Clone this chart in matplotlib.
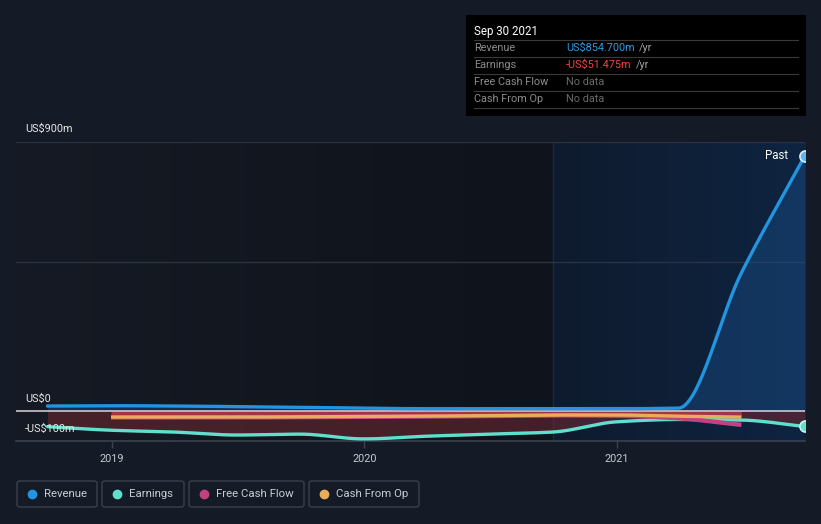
import numpy as np
import matplotlib
matplotlib.use("Agg")
import matplotlib.pyplot as plt
from matplotlib.patches import Rectangle, FancyBboxPatch
from matplotlib.colors import LinearSegmentedColormap

plt.rcParams['font.family'] = ['Roboto', 'DejaVu Sans']

# ---------------- data (US$ millions, decimal years) ----------------
quarters = [2018.745, 2018.997, 2019.244, 2019.493, 2019.745, 2019.997,
            2020.246, 2020.495, 2020.747, 2020.997, 2021.244, 2021.493, 2021.745]
revenue = [17, 18, 17, 15, 13, 10, 8, 8, 8, 8, 10, 462, 854.7]
earnings = [-52, -64, -70, -80, -77, -93, -84, -77, -70, -36, -28, -30, -51.475]

cf_dates = [2018.997, 2019.244, 2019.493, 2019.745, 2019.997, 2020.246,
            2020.495, 2020.747, 2020.997, 2021.244, 2021.493]
cash_from_op = [-20, -20, -20, -19, -18, -17, -15, -13, -13, -17, -20]
free_cash_flow = [-21, -21, -21, -20, -19, -18, -16, -14, -15, -24, -46]

year_ticks = [2019, 2020, 2021]
year_labels = ["2019", "2020", "2021"]
y_labels = ["US$900m", "US$0", "-US$100m"]
past_start = 2020.747

tooltip_date = "Sep 30 2021"
tooltip_rows = [("Revenue", "US$854.700m", "/yr"),
                ("Earnings", "-US$51.475m", "/yr"),
                ("Free Cash Flow", "No data", ""),
                ("Cash From Op", "No data", "")]
legend_names = ["Revenue", "Earnings", "Free Cash Flow", "Cash From Op"]

# ---------------- styling ----------------
C_REV = "#2394df"
C_EARN = "#5fe0cc"
C_FCF = "#c2427f"
C_CFO = "#e8ad5a"
BG = "#151b26"

W, H = 821, 524
fig = plt.figure(figsize=(W / 100, H / 100), dpi=100, facecolor=BG)


def fx(px):
    return px / W


def fy(py):
    return 1 - py / H


ax_l, ax_r, ax_t, ax_b = 16, 805, 142, 441
ax = fig.add_axes([fx(ax_l), fy(ax_b), fx(ax_r - ax_l), (ax_b - ax_t) / H])
ax.set_facecolor(BG)
x0, x1 = 2018.6206, 2021.745
ax.set_xlim(x0, x1)
ax.set_ylim(-100, 900)


def pchip(x, y, xs):
    x = np.asarray(x, float)
    y = np.asarray(y, float)
    h = np.diff(x)
    d = np.diff(y) / h
    n = len(x)
    m = np.zeros(n)
    for k in range(1, n - 1):
        if d[k - 1] * d[k] <= 0:
            m[k] = 0
        else:
            w1 = 2 * h[k] + h[k - 1]
            w2 = h[k] + 2 * h[k - 1]
            m[k] = (w1 + w2) / (w1 / d[k - 1] + w2 / d[k])
    m[0] = d[0]
    m[-1] = d[-1]
    idx = np.clip(np.searchsorted(x, xs) - 1, 0, n - 2)
    t = (xs - x[idx]) / h[idx]
    h00 = 2 * t**3 - 3 * t**2 + 1
    h10 = t**3 - 2 * t**2 + t
    h01 = -2 * t**3 + 3 * t**2
    h11 = t**3 - t**2
    return (h00 * y[idx] + h10 * h[idx] * m[idx] + h01 * y[idx + 1]
            + h11 * h[idx] * m[idx + 1])


# background gradients
cm_left = LinearSegmentedColormap.from_list("l", ["#151a24", "#0f131b"])
grad = np.linspace(0, 1, 256).reshape(1, -1)
ax.imshow(grad, extent=[x0, past_start, -100, 900], aspect="auto",
          cmap=cm_left, zorder=0)
cm_past = LinearSegmentedColormap.from_list("p", ["#0e1b2e", "#0f2441"])
ax.imshow(grad, extent=[past_start, x1, -100, 900], aspect="auto",
          cmap=cm_past, zorder=0)
ax.axvline(past_start, color="#1b2a40", lw=1, zorder=1)

# gridlines
for gv in [900, 500]:
    ax.axhline(gv, color="#2b3342", lw=1, zorder=1)

# smoothed curves
xs = np.linspace(quarters[0], quarters[-1], 600)
rev_s = pchip(quarters, revenue, xs)
earn_s = pchip(quarters, earnings, xs)
xc = np.linspace(cf_dates[0], cf_dates[-1], 500)
cfo_s = pchip(cf_dates, cash_from_op, xc)
fcf_s = pchip(cf_dates, free_cash_flow, xc)

# fills
ax.fill_between(xs, 0, rev_s, color="#1a5a9c", alpha=0.35, lw=0, zorder=2)
ax.fill_between(xs, 0, earn_s, color="#6a2830", alpha=0.6, lw=0, zorder=2)
ax.fill_between(xc, 0, cfo_s, color="#c8404e", alpha=0.7, lw=0, zorder=2)

# zero line
ax.axhline(0, color="#ddd5dc", lw=1.1, zorder=3)

# lines
ax.plot(xs, earn_s, color=C_EARN, lw=2.4, zorder=5, solid_capstyle="round")
ax.plot(xc, fcf_s, color=C_FCF, lw=3.2, zorder=5, solid_capstyle="butt")
ax.plot(xc, cfo_s, color=C_CFO, lw=2.4, zorder=6, solid_capstyle="butt")
ax.plot(xs, rev_s, color=C_REV, lw=2.4, zorder=7, solid_capstyle="round")

# end markers (clipped at the plot edge like the reference)
ax.plot([quarters[-1]], [revenue[-1]], "o", ms=8, mfc="#5fb2ee",
        mec="#d6ecff", mew=1.2, zorder=8, clip_on=True)
ax.plot([quarters[-1]], [earnings[-1]], "o", ms=8, mfc=C_EARN,
        mec="#c9f6ee", mew=1.2, zorder=8, clip_on=True)

ax.text(2021.68, 855, "Past", color="#ffffff", fontsize=8.3, ha="right",
        va="center", zorder=9)

# axes styling
for s in ["top", "right", "left"]:
    ax.spines[s].set_visible(False)
ax.spines["bottom"].set_color("#3a4150")
ax.spines["bottom"].set_linewidth(1.2)
ax.set_yticks([])
ax.set_xticks(year_ticks)
ax.set_xticklabels(year_labels)
ax.tick_params(axis="x", colors="#3a4150", length=5, width=1, pad=4,
               labelcolor="#c4c8cf", labelsize=7.8)

# y labels
for lbl, py in zip(y_labels, [129, 399, 429]):
    fig.text(fx(25), fy(py), lbl, color="#e6e6e6", fontsize=7.8,
             ha="left", va="center")

# tooltip
fig.patches.append(Rectangle((fx(466), fy(116)), fx(806 - 466), (116 - 15) / H,
                             transform=fig.transFigure, facecolor="#000000",
                             edgecolor="none", zorder=10))
fig.text(fx(474), fy(31), tooltip_date, color="#ffffff", fontsize=8.3,
         ha="left", va="center", zorder=11)
for yy in [40, 57, 74, 91, 108]:
    fig.add_artist(plt.Line2D([fx(474), fx(798)], [fy(yy), fy(yy)],
                              transform=fig.transFigure, color="#3a3a3a",
                              lw=0.8, zorder=11))
val_colors = ["#2f9be6", "#f0443e", "#6a6a6a", "#6a6a6a"]
for i, (lab, val, unit) in enumerate(tooltip_rows):
    py = 48 + 17 * i
    fig.text(fx(474), fy(py), lab, color="#8c8c8c", fontsize=7.8,
             ha="left", va="center", zorder=11)
    t = fig.text(fx(566), fy(py), val, color=val_colors[i], fontsize=7.8,
                 ha="left", va="center", zorder=11)
    if unit:
        fig.canvas.draw()
        bb = t.get_window_extent()
        fig.text(bb.x1 / W + fx(4), fy(py), unit, color="#a0a0a0",
                 fontsize=7.8, ha="left", va="center", zorder=11)

# legend
boxes = [(17, 97), (102, 184), (189, 304), (309, 419)]
colors = [C_REV, C_EARN, C_FCF, C_CFO]
for (bx0, bx1), name, c in zip(boxes, legend_names, colors):
    fig.patches.append(FancyBboxPatch((fx(bx0), fy(507)), fx(bx1 - bx0),
                                      (507 - 481) / H,
                                      boxstyle="round,pad=0,rounding_size=0.004",
                                      transform=fig.transFigure,
                                      facecolor="none", edgecolor="#3a414e",
                                      lw=1))
    fig.add_artist(plt.Line2D([fx(bx0 + 15)], [fy(494)], marker="o", ms=6,
                              color=c, transform=fig.transFigure, lw=0))
    fig.text(fx(bx0 + 27), fy(494), name, color="#c8ccd3", fontsize=8.2,
             ha="left", va="center")

fig.savefig("out.png", dpi=100, facecolor=BG)
